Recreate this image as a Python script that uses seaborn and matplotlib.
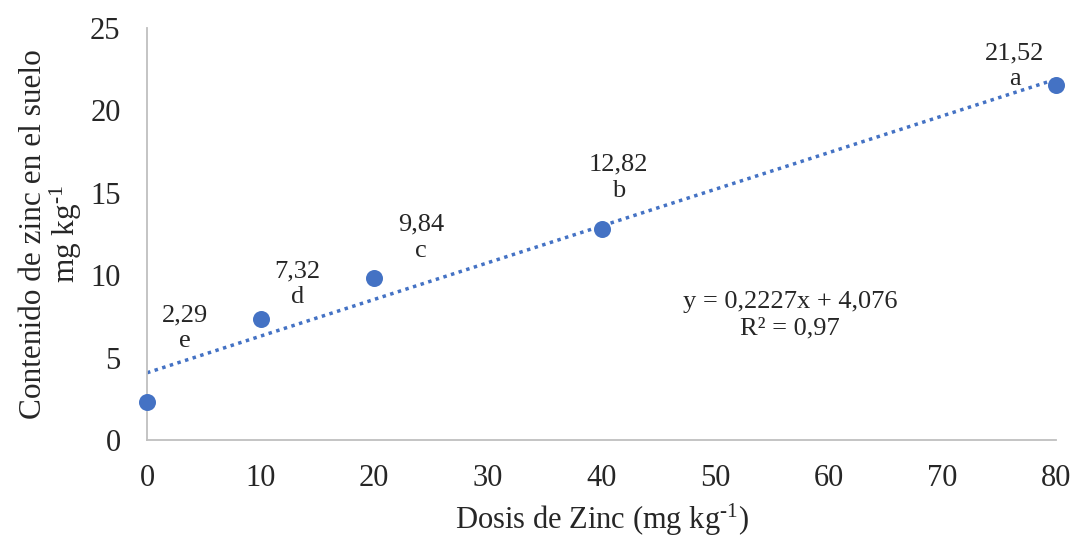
import matplotlib
matplotlib.use("Agg")
import matplotlib.pyplot as plt
import seaborn as sns

# dosis de Zn aplicada y contenido medido en el suelo
dose = [0, 10, 20, 40, 80]
zinc = [2.29, 7.32, 9.84, 12.82, 21.52]
value_labels = ["2,29", "7,32", "9,84", "12,82", "21,52"]
letters = ["e", "d", "c", "b", "a"]
x_ticks = [0, 10, 20, 30, 40, 50, 60, 70, 80]
y_ticks = [0, 5, 10, 15, 20, 25]
equation = "y = 0,2227x + 4,076\nR² = 0,97"

blue = "#4472C4"
grey = "#BFBFBF"

sns.set_style("white")
plt.rcParams["font.family"] = ["Liberation Serif", "DejaVu Serif"]
plt.rcParams["mathtext.fontset"] = "custom"
plt.rcParams["mathtext.rm"] = "Liberation Serif"
plt.rcParams["mathtext.it"] = "Liberation Serif:italic"

fig = plt.figure(figsize=(10.78, 5.37), dpi=100)
ax = fig.add_axes([147 / 1078, 1 - 440 / 537, 909 / 1078, 412 / 537])

sns.regplot(x=dose, y=zinc, ci=None, ax=ax,
            scatter_kws=dict(s=150, color=blue, alpha=1, clip_on=False, zorder=3, linewidths=0),
            line_kws=dict(color=blue, lw=2.5, linestyle=(0, (1, 1.3)), zorder=2))

# etiquetas de datos (desplazamiento en píxeles como en el original)
offsets = [(38, -74), (37, -35), (47, -40), (17, -51), (-41, -19)]
for xv, yv, lab, let, (dx, dy) in zip(dose, zinc, value_labels, letters, offsets):
    ax.annotate(f"{lab}\n{let}", (xv, yv), xytext=(dx, -dy), textcoords="offset pixels",
                ha="center", va="center", fontsize=19, linespacing=1.25)

ax.text(56.6, 7.55, equation, ha="center", va="center", fontsize=19,
        multialignment="center", linespacing=1.25)

ax.set_xlim(0, 80)
ax.set_ylim(0, 25)
ax.set_xticks(x_ticks)
ax.set_yticks(y_ticks)
ax.tick_params(axis="both", length=0, labelsize=22)
ax.tick_params(axis="x", pad=17)
ax.tick_params(axis="y", pad=19)

for side in ["top", "right"]:
    ax.spines[side].set_visible(False)
for side in ["left", "bottom"]:
    ax.spines[side].set_color(grey)
    ax.spines[side].set_linewidth(1.3)

ax.set_xlabel(r"Dosis de Zinc (mg kg$^{\text{-}1}$)", fontsize=22)
ax.set_ylabel("Contenido de zinc en el suelo\n" + r"mg kg$^{\text{-}1}$", fontsize=22.5,
              linespacing=1.0)
ax.xaxis.set_label_coords(0.5, -0.15)
ax.yaxis.set_label_coords(-0.069, 0.5)

fig.savefig("out.png", dpi=100)
